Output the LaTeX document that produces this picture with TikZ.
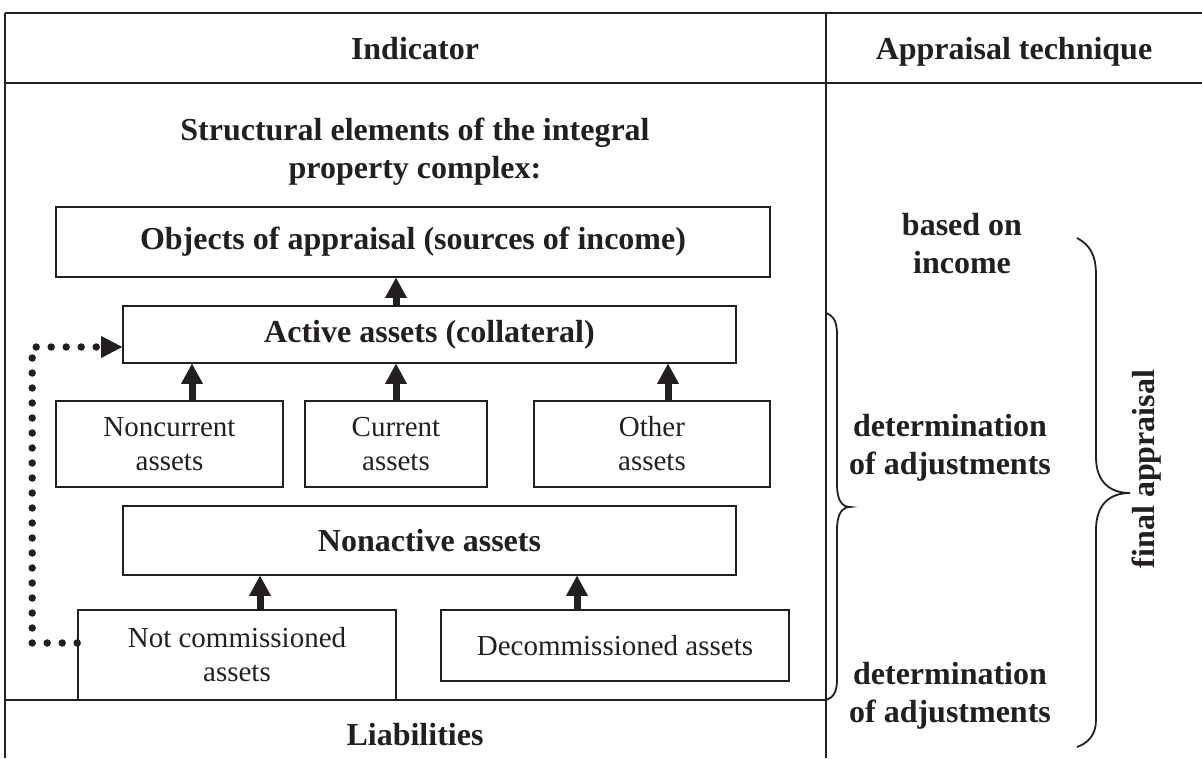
\documentclass[tikz,border=0pt]{standalone}
\usepackage{fontspec}
\setmainfont{Liberation Serif}
\usetikzlibrary{arrows.meta}
\definecolor{ink}{HTML}{231F20}

\begin{document}
\begin{tikzpicture}[x=1pt,y=-1pt,
    box/.style={draw=ink,line width=1.6pt,inner sep=0pt,align=center,text=ink},
    boldtxt/.style={font=\fontsize{32}{38}\selectfont\bfseries,text=ink,align=center},
    plaintxt/.style={font=\fontsize{29}{34}\selectfont,text=ink,align=center},
    rule/.style={draw=ink,line width=1.8pt},
    uparrow/.style={draw=ink,line width=7pt,-{Triangle[width=22pt,length=20pt,line width=0pt]}},
    dotarrow/.style={draw=ink,line width=7.5pt,line cap=round,dash pattern=on 0pt off 15pt,
        -{Triangle[width=22pt,length=21pt,line width=0pt]}},
    bracestyle/.style={draw=ink,line width=1.8pt}]
    \useasboundingbox (0,0) rectangle (1202,758);

    % Table rules
    \draw[rule] (5,13) -- (1202,13);
    \draw[rule] (5,83) -- (1202,83);
    \draw[rule] (5,13) -- (5,758);
    \draw[rule] (826,13) -- (826,758);
    \draw[rule] (5,700) -- (826,700);

    % Headers
    \node[boldtxt,anchor=base] (indhead) at (415,59) {Indicator};
    \node[boldtxt,anchor=base] (techhead) at (1014,59) {Appraisal technique};
    \node[boldtxt] (struct) at (415,152) {Structural elements of the integral\\property complex:};

    % Structural elements
    \node[box,boldtxt,minimum width=714pt,minimum height=70pt] (obj) at (413,242) {Objects of appraisal (sources of income)};
    \node[box,boldtxt,minimum width=613pt,minimum height=57pt] (act) at (429.5,334.5) {Active assets (collateral)};
    \node[box,plaintxt,minimum width=227pt,minimum height=86pt] (noncur) at (169.5,444) {Noncurrent\\assets};
    \node[box,plaintxt,minimum width=182pt,minimum height=86pt] (cur) at (396,444) {Current\\assets};
    \node[box,plaintxt,minimum width=236pt,minimum height=86pt] (other) at (652,444) {Other\\assets};
    \node[box,boldtxt,minimum width=613pt,minimum height=69pt] (nonact) at (429.5,540.5) {Nonactive assets};
    \node[box,plaintxt,minimum width=318pt,minimum height=90pt] (notcom) at (237,655) {Not commissioned\\assets};
    \node[box,plaintxt,minimum width=348pt,minimum height=71pt] (decom) at (615,645.5) {Decommissioned assets};
    \node[boldtxt] (liab) at (415,735) {Liabilities};

    % Arrows
    \draw[uparrow] (396,0 |- act.north) -- (396,0 |- obj.south);
    \draw[uparrow] (192,0 |- noncur.north) -- (192,0 |- act.south);
    \draw[uparrow] (cur.north) -- (cur.north |- act.south);
    \draw[uparrow] (668,0 |- other.north) -- (668,0 |- act.south);
    \draw[uparrow] (260,0 |- notcom.north) -- (260,0 |- nonact.south);
    \draw[uparrow] (577,0 |- decom.north) -- (577,0 |- nonact.south);
    \draw[dotarrow] ([yshift=12pt]notcom.west) -- ++(-45,0) |- ([yshift=-12.5pt]act.west);

    % Appraisal technique
    \node[boldtxt] (basedon) at (962,244) {based on\\income};
    \node[boldtxt] (adjone) at (950,448) {determination\\of adjustments};
    \node[boldtxt] (adjtwo) at (950,696) {determination\\of adjustments};
    \node[boldtxt,rotate=90] (final) at (1147,469) {final appraisal};

    % Braces
    \draw[bracestyle] (826,313) .. controls (834,316) and (837,322) .. (837,335) -- (837,485)
        .. controls (837,500) and (842,507) .. (850,507) .. controls (842,507) and (837,514) .. (837,530)
        -- (837,680) .. controls (837,692) and (833,698) .. (826,700);
    \draw[bracestyle] (1077,238) .. controls (1090,245) and (1096,255) .. (1096,275) -- (1096,457)
        .. controls (1096,482) and (1110,493) .. (1130,493) .. controls (1110,493) and (1096,504) .. (1096,530)
        -- (1096,720) .. controls (1096,735) and (1088,743) .. (1077,747);
\end{tikzpicture}
\end{document}
